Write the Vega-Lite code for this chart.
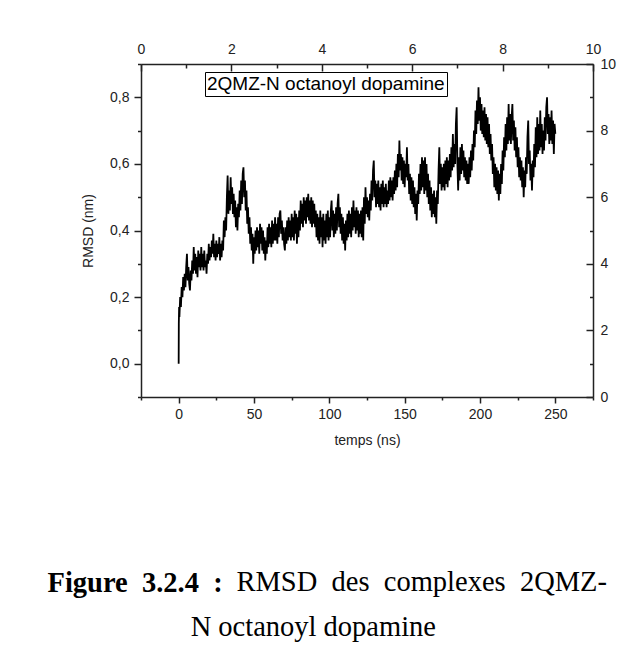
{
  "$schema": "https://vega.github.io/schema/vega-lite/v6.json",
  "autosize": {"type": "none"},
  "width": 452,
  "height": 333,
  "padding": {"left": 141, "top": 64, "right": 35, "bottom": 257},
  "background": "white",
  "config": {
    "view": {"stroke": null},
    "axis": {
      "domainColor": "#222", "domainWidth": 1.5,
      "tickColor": "#222", "tickWidth": 1.5,
      "labelColor": "#222", "labelFont": "Liberation Sans", "labelFontSize": 14,
      "titleColor": "#222", "titleFont": "Liberation Sans", "titleFontSize": 14, "titleFontWeight": "normal",
      "grid": false, "labelFlush": false, "labelOverlap": false
    }
  },
  "title": {
    "text": "RMSD\u00a0\u00a0des\u00a0\u00a0complexes\u00a0\u00a02QMZ-",
    "subtitle": "N octanoyl dopamine\u00a0\u00a0\u00a0\u00a0\u00a0\u00a0\u00a0\u00a0\u00a0\u00a0\u00a0\u00a0\u00a0\u00a0\u00a0\u00a0\u00a0\u00a0\u00a0\u00a0\u00a0\u00a0\u00a0\u00a0\u200b",
    "orient": "bottom", "anchor": "end", "frame": "group",
    "dx": 14, "offset": -28.5,
    "font": "Liberation Serif", "fontSize": 28.5, "fontWeight": "normal", "color": "black",
    "subtitleFont": "Liberation Serif", "subtitleFontSize": 28.5, "subtitleFontWeight": "normal", "subtitleColor": "black",
    "subtitlePadding": 16.5
  },
  "data": {"name": "md", "values": [
    {"t":0,"r":0},{"t":0.1,"r":0.12},{"t":0.3,"r":0.17},{"t":0.5,"r":0.14},{"t":1,"r":0.2},{"t":1.5,"r":0.17},{"t":2,"r":0.23},{"t":2.5,"r":0.2},{"t":3,"r":0.26},{"t":3.5,"r":0.22},
    {"t":4,"r":0.27},{"t":4.5,"r":0.23},{"t":5,"r":0.29},{"t":5.5,"r":0.33},{"t":6,"r":0.25},{"t":6.5,"r":0.29},{"t":7,"r":0.24},{"t":7.5,"r":0.22},{"t":8,"r":0.28},{"t":8.5,"r":0.25},
    {"t":9,"r":0.31},{"t":9.5,"r":0.27},{"t":10,"r":0.35},{"t":10.5,"r":0.28},{"t":11,"r":0.33},{"t":11.5,"r":0.27},{"t":12,"r":0.32},{"t":12.5,"r":0.26},{"t":13,"r":0.34},{"t":13.5,"r":0.29},
    {"t":14,"r":0.33},{"t":14.5,"r":0.28},{"t":15,"r":0.35},{"t":15.5,"r":0.29},{"t":16,"r":0.33},{"t":16.5,"r":0.28},{"t":17,"r":0.34},{"t":17.5,"r":0.29},{"t":18,"r":0.31},{"t":18.5,"r":0.27},
    {"t":19,"r":0.33},{"t":19.5,"r":0.3},{"t":20,"r":0.36},{"t":20.5,"r":0.31},{"t":21,"r":0.35},{"t":21.5,"r":0.32},{"t":22,"r":0.37},{"t":22.5,"r":0.33},{"t":23,"r":0.39},{"t":23.5,"r":0.32},
    {"t":24,"r":0.36},{"t":24.5,"r":0.31},{"t":25,"r":0.37},{"t":25.5,"r":0.32},{"t":26,"r":0.36},{"t":26.5,"r":0.33},{"t":27,"r":0.38},{"t":27.5,"r":0.31},{"t":28,"r":0.36},{"t":28.5,"r":0.32},
    {"t":29,"r":0.37},{"t":29.5,"r":0.34},{"t":30,"r":0.43},{"t":30.5,"r":0.38},{"t":31,"r":0.44},{"t":31.5,"r":0.4},{"t":32,"r":0.5},{"t":32.5,"r":0.565},{"t":33,"r":0.45},{"t":33.5,"r":0.52},
    {"t":34,"r":0.46},{"t":34.5,"r":0.56},{"t":35,"r":0.48},{"t":35.5,"r":0.53},{"t":36,"r":0.45},{"t":36.5,"r":0.51},{"t":37,"r":0.44},{"t":37.5,"r":0.49},{"t":38,"r":0.41},{"t":38.5,"r":0.47},
    {"t":39,"r":0.4},{"t":39.5,"r":0.48},{"t":40,"r":0.44},{"t":40.5,"r":0.52},{"t":41,"r":0.46},{"t":41.5,"r":0.55},{"t":42,"r":0.48},{"t":42.5,"r":0.57},{"t":43,"r":0.59},{"t":43.5,"r":0.5},
    {"t":44,"r":0.55},{"t":44.5,"r":0.46},{"t":45,"r":0.52},{"t":45.5,"r":0.42},{"t":46,"r":0.47},{"t":46.5,"r":0.39},{"t":47,"r":0.44},{"t":47.5,"r":0.36},{"t":48,"r":0.41},{"t":48.5,"r":0.34},
    {"t":49,"r":0.39},{"t":49.5,"r":0.3},{"t":50,"r":0.38},{"t":50.5,"r":0.33},{"t":51,"r":0.4},{"t":51.5,"r":0.34},{"t":52,"r":0.41},{"t":52.5,"r":0.35},{"t":53,"r":0.4},{"t":53.5,"r":0.33},
    {"t":54,"r":0.42},{"t":54.5,"r":0.36},{"t":55,"r":0.41},{"t":55.5,"r":0.34},{"t":56,"r":0.4},{"t":56.5,"r":0.33},{"t":57,"r":0.38},{"t":57.5,"r":0.31},{"t":58,"r":0.37},{"t":58.5,"r":0.33},
    {"t":59,"r":0.41},{"t":59.5,"r":0.35},{"t":60,"r":0.42},{"t":60.5,"r":0.36},{"t":61,"r":0.41},{"t":61.5,"r":0.35},{"t":62,"r":0.43},{"t":62.5,"r":0.36},{"t":63,"r":0.42},{"t":63.5,"r":0.37},
    {"t":64,"r":0.44},{"t":64.5,"r":0.37},{"t":65,"r":0.42},{"t":65.5,"r":0.36},{"t":66,"r":0.44},{"t":66.5,"r":0.38},{"t":67,"r":0.45},{"t":67.5,"r":0.46},{"t":68,"r":0.39},{"t":68.5,"r":0.43},
    {"t":69,"r":0.37},{"t":69.5,"r":0.41},{"t":70,"r":0.36},{"t":70.5,"r":0.34},{"t":71,"r":0.41},{"t":71.5,"r":0.36},{"t":72,"r":0.43},{"t":72.5,"r":0.37},{"t":73,"r":0.44},{"t":73.5,"r":0.38},
    {"t":74,"r":0.43},{"t":74.5,"r":0.37},{"t":75,"r":0.45},{"t":75.5,"r":0.38},{"t":76,"r":0.44},{"t":76.5,"r":0.37},{"t":77,"r":0.46},{"t":77.5,"r":0.39},{"t":78,"r":0.45},{"t":78.5,"r":0.36},
    {"t":79,"r":0.44},{"t":79.5,"r":0.38},{"t":80,"r":0.46},{"t":80.5,"r":0.4},{"t":81,"r":0.49},{"t":81.5,"r":0.42},{"t":82,"r":0.48},{"t":82.5,"r":0.41},{"t":83,"r":0.5},{"t":83.5,"r":0.43},
    {"t":84,"r":0.49},{"t":84.5,"r":0.42},{"t":85,"r":0.5},{"t":85.5,"r":0.44},{"t":86,"r":0.51},{"t":86.5,"r":0.43},{"t":87,"r":0.49},{"t":87.5,"r":0.42},{"t":88,"r":0.5},{"t":88.5,"r":0.41},
    {"t":89,"r":0.49},{"t":89.5,"r":0.42},{"t":90,"r":0.48},{"t":90.5,"r":0.41},{"t":91,"r":0.46},{"t":91.5,"r":0.38},{"t":92,"r":0.45},{"t":92.5,"r":0.37},{"t":93,"r":0.44},{"t":93.5,"r":0.36},
    {"t":94,"r":0.46},{"t":94.5,"r":0.38},{"t":95,"r":0.44},{"t":95.5,"r":0.35},{"t":96,"r":0.45},{"t":96.5,"r":0.37},{"t":97,"r":0.43},{"t":97.5,"r":0.36},{"t":98,"r":0.45},{"t":98.5,"r":0.38},
    {"t":99,"r":0.46},{"t":99.5,"r":0.37},{"t":100,"r":0.44},{"t":100.5,"r":0.38},{"t":101,"r":0.46},{"t":101.5,"r":0.49},{"t":102,"r":0.4},{"t":102.5,"r":0.46},{"t":103,"r":0.38},{"t":103.5,"r":0.45},
    {"t":104,"r":0.39},{"t":104.5,"r":0.47},{"t":105,"r":0.4},{"t":105.5,"r":0.48},{"t":106,"r":0.51},{"t":106.5,"r":0.41},{"t":107,"r":0.47},{"t":107.5,"r":0.39},{"t":108,"r":0.45},{"t":108.5,"r":0.37},
    {"t":109,"r":0.44},{"t":109.5,"r":0.36},{"t":110,"r":0.42},{"t":110.5,"r":0.34},{"t":111,"r":0.43},{"t":111.5,"r":0.37},{"t":112,"r":0.45},{"t":112.5,"r":0.38},{"t":113,"r":0.46},{"t":113.5,"r":0.39},
    {"t":114,"r":0.45},{"t":114.5,"r":0.38},{"t":115,"r":0.47},{"t":115.5,"r":0.4},{"t":116,"r":0.49},{"t":116.5,"r":0.41},{"t":117,"r":0.46},{"t":117.5,"r":0.39},{"t":118,"r":0.47},{"t":118.5,"r":0.4},
    {"t":119,"r":0.46},{"t":119.5,"r":0.38},{"t":120,"r":0.45},{"t":120.5,"r":0.39},{"t":121,"r":0.46},{"t":121.5,"r":0.38},{"t":122,"r":0.47},{"t":122.5,"r":0.37},{"t":123,"r":0.5},{"t":123.5,"r":0.42},
    {"t":124,"r":0.53},{"t":124.5,"r":0.45},{"t":125,"r":0.5},{"t":125.5,"r":0.44},{"t":126,"r":0.49},{"t":126.5,"r":0.43},{"t":127,"r":0.51},{"t":127.5,"r":0.46},{"t":128,"r":0.55},{"t":128.5,"r":0.49},
    {"t":129,"r":0.58},{"t":129.5,"r":0.61},{"t":130,"r":0.5},{"t":130.5,"r":0.55},{"t":131,"r":0.47},{"t":131.5,"r":0.54},{"t":132,"r":0.48},{"t":132.5,"r":0.55},{"t":133,"r":0.47},{"t":133.5,"r":0.53},
    {"t":134,"r":0.46},{"t":134.5,"r":0.54},{"t":135,"r":0.48},{"t":135.5,"r":0.55},{"t":136,"r":0.47},{"t":136.5,"r":0.53},{"t":137,"r":0.48},{"t":137.5,"r":0.54},{"t":138,"r":0.47},{"t":138.5,"r":0.52},
    {"t":139,"r":0.48},{"t":139.5,"r":0.55},{"t":140,"r":0.49},{"t":140.5,"r":0.56},{"t":141,"r":0.5},{"t":141.5,"r":0.55},{"t":142,"r":0.49},{"t":142.5,"r":0.56},{"t":143,"r":0.51},{"t":143.5,"r":0.58},
    {"t":144,"r":0.52},{"t":144.5,"r":0.6},{"t":145,"r":0.53},{"t":145.5,"r":0.63},{"t":146,"r":0.56},{"t":146.5,"r":0.67},{"t":147,"r":0.58},{"t":147.5,"r":0.63},{"t":148,"r":0.55},{"t":148.5,"r":0.62},
    {"t":149,"r":0.54},{"t":149.5,"r":0.61},{"t":150,"r":0.53},{"t":150.5,"r":0.6},{"t":151,"r":0.56},{"t":151.5,"r":0.65},{"t":152,"r":0.55},{"t":152.5,"r":0.6},{"t":153,"r":0.51},{"t":153.5,"r":0.57},
    {"t":154,"r":0.49},{"t":154.5,"r":0.56},{"t":155,"r":0.48},{"t":155.5,"r":0.55},{"t":156,"r":0.47},{"t":156.5,"r":0.53},{"t":157,"r":0.45},{"t":157.5,"r":0.51},{"t":158,"r":0.43},{"t":158.5,"r":0.52},
    {"t":159,"r":0.48},{"t":159.5,"r":0.57},{"t":160,"r":0.51},{"t":160.5,"r":0.6},{"t":161,"r":0.52},{"t":161.5,"r":0.62},{"t":162,"r":0.53},{"t":162.5,"r":0.61},{"t":163,"r":0.51},{"t":163.5,"r":0.62},
    {"t":164,"r":0.52},{"t":164.5,"r":0.6},{"t":165,"r":0.5},{"t":165.5,"r":0.57},{"t":166,"r":0.48},{"t":166.5,"r":0.55},{"t":167,"r":0.46},{"t":167.5,"r":0.53},{"t":168,"r":0.44},{"t":168.5,"r":0.51},
    {"t":169,"r":0.45},{"t":169.5,"r":0.52},{"t":170,"r":0.44},{"t":170.5,"r":0.5},{"t":171,"r":0.42},{"t":171.5,"r":0.52},{"t":172,"r":0.48},{"t":172.5,"r":0.58},{"t":173,"r":0.65},{"t":173.5,"r":0.54},
    {"t":174,"r":0.6},{"t":174.5,"r":0.52},{"t":175,"r":0.59},{"t":175.5,"r":0.53},{"t":176,"r":0.6},{"t":176.5,"r":0.52},{"t":177,"r":0.61},{"t":177.5,"r":0.54},{"t":178,"r":0.62},{"t":178.5,"r":0.53},
    {"t":179,"r":0.61},{"t":179.5,"r":0.55},{"t":180,"r":0.63},{"t":180.5,"r":0.56},{"t":181,"r":0.65},{"t":181.5,"r":0.58},{"t":182,"r":0.69},{"t":182.5,"r":0.59},{"t":183,"r":0.66},{"t":183.5,"r":0.6},
    {"t":184,"r":0.72},{"t":184.5,"r":0.77},{"t":185,"r":0.6},{"t":185.5,"r":0.52},{"t":186,"r":0.62},{"t":186.5,"r":0.55},{"t":187,"r":0.65},{"t":187.5,"r":0.57},{"t":188,"r":0.66},{"t":188.5,"r":0.58},
    {"t":189,"r":0.64},{"t":189.5,"r":0.56},{"t":190,"r":0.62},{"t":190.5,"r":0.55},{"t":191,"r":0.61},{"t":191.5,"r":0.54},{"t":192,"r":0.6},{"t":192.5,"r":0.54},{"t":193,"r":0.62},{"t":193.5,"r":0.56},
    {"t":194,"r":0.64},{"t":194.5,"r":0.58},{"t":195,"r":0.66},{"t":195.5,"r":0.61},{"t":196,"r":0.7},{"t":196.5,"r":0.65},{"t":197,"r":0.76},{"t":197.5,"r":0.69},{"t":198,"r":0.79},{"t":198.5,"r":0.72},
    {"t":199,"r":0.83},{"t":199.5,"r":0.73},{"t":200,"r":0.8},{"t":200.5,"r":0.7},{"t":201,"r":0.78},{"t":201.5,"r":0.69},{"t":202,"r":0.76},{"t":202.5,"r":0.68},{"t":203,"r":0.77},{"t":203.5,"r":0.67},
    {"t":204,"r":0.75},{"t":204.5,"r":0.66},{"t":205,"r":0.74},{"t":205.5,"r":0.65},{"t":206,"r":0.72},{"t":206.5,"r":0.63},{"t":207,"r":0.69},{"t":207.5,"r":0.61},{"t":208,"r":0.66},{"t":208.5,"r":0.57},
    {"t":209,"r":0.62},{"t":209.5,"r":0.53},{"t":210,"r":0.6},{"t":210.5,"r":0.52},{"t":211,"r":0.59},{"t":211.5,"r":0.51},{"t":212,"r":0.58},{"t":212.5,"r":0.49},{"t":213,"r":0.57},{"t":213.5,"r":0.51},
    {"t":214,"r":0.6},{"t":214.5,"r":0.54},{"t":215,"r":0.64},{"t":215.5,"r":0.58},{"t":216,"r":0.68},{"t":216.5,"r":0.62},{"t":217,"r":0.72},{"t":217.5,"r":0.64},{"t":218,"r":0.74},{"t":218.5,"r":0.66},
    {"t":219,"r":0.78},{"t":219.5,"r":0.67},{"t":220,"r":0.75},{"t":220.5,"r":0.66},{"t":221,"r":0.74},{"t":221.5,"r":0.78},{"t":222,"r":0.67},{"t":222.5,"r":0.73},{"t":223,"r":0.64},{"t":223.5,"r":0.71},
    {"t":224,"r":0.62},{"t":224.5,"r":0.68},{"t":225,"r":0.59},{"t":225.5,"r":0.65},{"t":226,"r":0.56},{"t":226.5,"r":0.62},{"t":227,"r":0.55},{"t":227.5,"r":0.61},{"t":228,"r":0.53},{"t":228.5,"r":0.59},
    {"t":229,"r":0.5},{"t":229.5,"r":0.58},{"t":230,"r":0.53},{"t":230.5,"r":0.62},{"t":231,"r":0.57},{"t":231.5,"r":0.68},{"t":232,"r":0.73},{"t":232.5,"r":0.6},{"t":233,"r":0.64},{"t":233.5,"r":0.55},
    {"t":234,"r":0.6},{"t":234.5,"r":0.52},{"t":235,"r":0.61},{"t":235.5,"r":0.56},{"t":236,"r":0.66},{"t":236.5,"r":0.59},{"t":237,"r":0.71},{"t":237.5,"r":0.62},{"t":238,"r":0.74},{"t":238.5,"r":0.63},
    {"t":239,"r":0.72},{"t":239.5,"r":0.64},{"t":240,"r":0.76},{"t":240.5,"r":0.65},{"t":241,"r":0.72},{"t":241.5,"r":0.63},{"t":242,"r":0.7},{"t":242.5,"r":0.64},{"t":243,"r":0.74},{"t":243.5,"r":0.67},
    {"t":244,"r":0.77},{"t":244.5,"r":0.8},{"t":245,"r":0.69},{"t":245.5,"r":0.75},{"t":246,"r":0.66},{"t":246.5,"r":0.74},{"t":247,"r":0.67},{"t":247.5,"r":0.76},{"t":248,"r":0.66},{"t":248.5,"r":0.73},
    {"t":249,"r":0.63},{"t":249.5,"r":0.72},{"t":250,"r":0.69}
  ]},
  "layer": [
    {
      "mark": {"type": "line", "strokeWidth": 1.8, "clip": true},
      "encoding": {
        "x": {"field": "t", "type": "quantitative",
          "scale": {"domain": [-25, 275], "nice": false, "zero": false},
          "axis": {"orient": "bottom", "values": [0, 50, 100, 150, 200, 250], "tickSize": 6, "labelPadding": 4, "title": "temps (ns)", "titlePadding": 12}},
        "y": {"field": "r", "type": "quantitative",
          "scale": {"domain": [-0.1, 0.9], "nice": false, "zero": false},
          "axis": {"orient": "left", "values": [0, 0.2, 0.4, 0.6, 0.8], "tickSize": 7, "labelPadding": 5,
            "labelExpr": "replace(format(datum.value, '.1f'), '.', ',')", "title": "RMSD (nm)", "titlePadding": 14}},
        "color": {"datum": "2QMZ-N octanoyl dopamine", "type": "nominal",
          "scale": {"range": ["black"]},
          "legend": {"title": null, "orient": "none", "legendX": 64, "legendY": 8,
            "strokeColor": "black", "fillColor": "white", "padding": 2,
            "symbolSize": 0, "symbolStrokeWidth": 0, "symbolOpacity": 0, "labelOffset": -19,
            "labelFont": "Liberation Sans", "labelFontSize": 19, "labelColor": "black", "labelLimit": 0}}
      }
    },
    {
      "mark": {"type": "point", "opacity": 0, "size": 0},
      "encoding": {
        "x": {"field": "t", "type": "quantitative",
          "scale": {"domain": [-25, 275], "nice": false, "zero": false},
          "axis": {"orient": "bottom", "values": [-25, 25, 75, 125, 175, 225, 275], "tickSize": 3, "labels": false, "domain": false,
            "title": "Figure\u00a0\u00a03.2.4\u00a0\u00a0:", "titleFont": "Liberation Serif", "titleFontSize": 28.5, "titleFontWeight": "bold", "titleColor": "black",
            "titleX": -94, "titleY": 171, "titleAlign": "left", "titleBaseline": "top", "titleAngle": 0}},
        "y": {"field": "r", "type": "quantitative",
          "scale": {"domain": [-0.1, 0.9], "nice": false, "zero": false},
          "axis": {"orient": "left", "values": [-0.1, 0.1, 0.3, 0.5, 0.7, 0.9], "tickSize": 3.5, "labels": false, "domain": false, "title": null}}
      }
    },
    {
      "mark": {"type": "point", "opacity": 0, "size": 0},
      "encoding": {
        "x": {"field": "t", "type": "quantitative",
          "scale": {"domain": [0, 10], "nice": false, "zero": false},
          "axis": {"orient": "top", "values": [0, 2, 4, 6, 8, 10], "tickSize": -7, "labelPadding": 15, "title": null}},
        "y": {"field": "r", "type": "quantitative",
          "scale": {"domain": [0, 10], "nice": false, "zero": false},
          "axis": {"orient": "right", "values": [0, 2, 4, 6, 8, 10], "tickSize": -7, "labelPadding": 14, "title": null}}
      }
    },
    {
      "mark": {"type": "point", "opacity": 0, "size": 0},
      "encoding": {
        "x": {"field": "t", "type": "quantitative",
          "scale": {"domain": [0, 10], "nice": false, "zero": false},
          "axis": {"orient": "top", "values": [1, 3, 5, 7, 9], "tickSize": -4, "labels": false, "domain": false, "title": null}},
        "y": {"field": "r", "type": "quantitative",
          "scale": {"domain": [0, 10], "nice": false, "zero": false},
          "axis": {"orient": "right", "values": [1, 3, 5, 7, 9], "tickSize": -3.5, "labels": false, "domain": false, "title": null}}
      }
    }
  ],
  "resolve": {
    "scale": {"x": "independent", "y": "independent"},
    "axis": {"x": "independent", "y": "independent"}
  }
}
